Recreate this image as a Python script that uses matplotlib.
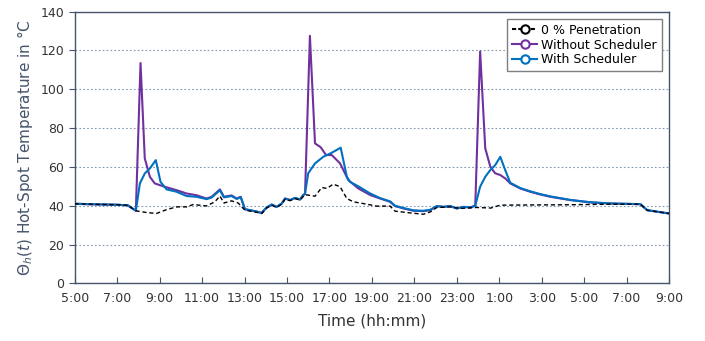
import matplotlib.pyplot as plt
from matplotlib.lines import Line2D

# time in hours after 5:00
t_without = [0, 1, 2, 2.5, 2.88, 3.10, 3.30, 3.54, 3.77, 4.17, 4.80, 5.27, 5.74, 6.21, 6.45,
             6.84, 7.03, 7.39, 7.63, 7.82, 8.02, 8.49, 8.81, 9.04, 9.28, 9.51, 9.75, 9.91,
             10.14, 10.38, 10.61, 10.77, 10.85, 11.08, 11.32, 11.59, 11.84, 12.11, 12.50,
             12.89, 13.36, 13.92, 14.39, 14.86, 15.09, 15.49, 15.96, 16.43, 16.75, 17.06,
             17.37, 17.69, 18.00, 18.32, 18.63, 18.87, 19.10, 19.34, 19.58, 19.81, 20.05,
             20.28, 20.52, 20.99, 21.46, 21.93, 22.41, 23.35, 24.29, 25.24, 26.65, 26.97, 28]
v_without = [41.0, 40.7, 40.5, 40.2, 37.4, 113.5, 64.4, 54.9, 51.5, 50.0, 48.0, 46.3, 45.4, 43.7, 44.6,
             48.4, 44.6, 45.3, 43.7, 44.6, 38.2, 37.2, 36.3, 39.1, 40.6, 39.4, 41.1, 43.7,
             42.9, 44.0, 43.2, 45.5, 46.0, 127.5, 72.1, 70.1, 66.1, 66.1, 61.8,
             53.2, 48.9, 45.5, 43.7, 42.0, 39.8, 38.6, 37.4, 37.2, 37.7, 39.8,
             39.4, 39.8, 38.6, 39.4, 39.1, 40.0, 119.5, 69.6, 60.1, 56.7, 55.8,
             54.1, 51.5, 48.9, 47.2, 45.8, 44.6, 42.9, 41.7, 41.1, 40.8, 37.7, 36.0]

t_with = [0, 1, 2, 2.5, 2.88, 3.07, 3.30, 3.54, 3.82, 4.04, 4.33, 4.80, 5.27, 5.74, 6.21, 6.45,
          6.84, 7.03, 7.39, 7.63, 7.82, 8.02, 8.49, 8.81, 9.04, 9.28, 9.51, 9.75, 9.91,
          10.14, 10.38, 10.61, 10.77, 10.85, 11.00, 11.32, 11.71, 12.11, 12.53, 12.82,
          12.97, 13.36, 13.92, 14.39, 14.86, 15.09, 15.49, 15.96, 16.43, 16.75, 17.06,
          17.37, 17.69, 18.00, 18.32, 18.63, 18.87, 19.10, 19.34, 19.58, 19.81, 20.05,
          20.28, 20.52, 20.99, 21.46, 21.93, 22.41, 23.35, 24.29, 25.24, 26.65, 26.97, 28]
v_with = [41.0, 40.7, 40.5, 40.2, 37.4, 51.5, 56.6, 59.2, 63.5, 52.3, 48.4, 47.2, 45.0, 44.6, 43.4, 44.2,
          48.0, 44.3, 45.0, 43.5, 44.4, 38.2, 37.2, 36.3, 39.1, 40.6, 39.4, 41.1, 43.7,
          42.9, 44.0, 43.2, 45.5, 46.3, 56.7, 61.8, 65.2, 67.3, 69.9, 54.9,
          52.3, 50.0, 46.3, 43.9, 42.2, 40.0, 38.8, 37.6, 37.4, 37.9, 39.8,
          39.4, 39.8, 38.6, 39.4, 39.1, 40.0, 49.8, 54.9, 58.4, 60.9, 65.2,
          58.4, 51.8, 49.1, 47.4, 46.0, 44.8, 43.0, 41.8, 41.2, 40.8, 37.7, 36.0]

t_base = [0, 1, 2, 2.5, 2.88, 3.38, 3.85, 4.33, 4.80, 5.27, 5.58, 6.21, 6.60, 6.84, 7.03,
          7.39, 7.70, 8.02, 8.49, 8.81, 9.04, 9.28, 9.51, 9.75, 9.91, 10.14, 10.38, 10.61,
          10.85, 11.32, 11.64, 11.87, 12.18, 12.50, 12.82, 13.13, 13.60, 14.23, 14.86,
          15.09, 15.80, 16.43, 16.75, 17.06, 17.69, 18.16, 18.95, 19.60, 20.05, 23.35,
          25.24, 26.65, 26.97, 28]
v_base = [41.0, 40.7, 40.5, 40.2, 37.4, 36.5, 36.0, 38.0, 39.4, 39.4, 40.6, 39.9, 42.0, 45.0, 41.4,
          42.5, 41.4, 37.7, 36.8, 36.0, 38.8, 40.3, 39.1, 40.8, 43.4, 42.6, 43.7, 42.9,
          45.7, 44.9, 49.4, 48.9, 51.1, 49.8, 43.7, 42.0, 41.1, 39.8, 39.8,
          37.2, 36.3, 35.6, 36.8, 39.1, 39.4, 38.6, 39.1, 38.8, 40.3, 40.5,
          40.8, 40.8, 37.7, 36.0]

tick_labels = ['5:00', '7:00', '9:00', '11:00', '13:00', '15:00', '17:00', '19:00',
               '21:00', '23:00', '1:00', '3:00', '5:00', '7:00', '9:00']

purple = '#7030A0'
blue = '#0070C0'
axis_col = '#44546A'

fig = plt.figure(figsize=(7.05, 3.41), dpi=100)
ax = fig.add_axes([0.106, 0.169, 0.843, 0.797])

ax.plot(t_base, v_base, color='black', linestyle=(0, (3, 2)), linewidth=1.0, zorder=3)
ax.plot(t_without, v_without, color=purple, linewidth=1.5, zorder=2)
ax.plot(t_with, v_with, color=blue, linewidth=1.5, zorder=2.5)

ax.set_xlim(0, 28)
ax.set_ylim(0, 140)
ax.set_xticks(range(0, 29, 2))
ax.set_xticklabels(tick_labels)
ax.set_yticks(range(0, 141, 20))
ax.yaxis.grid(True, linestyle=(0, (1.5, 2)), color='#8496B0', linewidth=0.8)
ax.set_axisbelow(True)

for s in ax.spines.values():
    s.set_color(axis_col)
    s.set_linewidth(1.0)
ax.tick_params(axis='x', direction='in', length=4, colors=axis_col, labelcolor='#333333', labelsize=9, pad=6)
ax.tick_params(axis='y', direction='out', length=4, colors=axis_col, labelcolor='#333333', labelsize=9)

ax.set_xlabel('Time (hh:mm)', fontsize=11, color='#333333', labelpad=6)
ax.set_ylabel(r'$\Theta_h(t)$ Hot-Spot Temperature in °C', fontsize=11, color=axis_col, labelpad=4)

handles = [
    Line2D([], [], color='black', linestyle=(0, (2, 1)), linewidth=1.5, marker='o',
           markerfacecolor='white', markeredgecolor='black', markersize=6, markeredgewidth=1.5),
    Line2D([], [], color=purple, linewidth=1.5, marker='o',
           markerfacecolor='white', markeredgecolor=purple, markersize=6, markeredgewidth=1.5),
    Line2D([], [], color=blue, linewidth=1.5, marker='o',
           markerfacecolor='white', markeredgecolor=blue, markersize=6, markeredgewidth=1.5),
]
leg = ax.legend(handles, ['0 % Penetration', 'Without Scheduler', 'With Scheduler'],
                loc='upper right', bbox_to_anchor=(0.998, 0.997), fontsize=9, fancybox=False,
                handlelength=2.0, handletextpad=0.3, borderpad=0.4, labelspacing=0.15,
                framealpha=1)
leg.get_frame().set_edgecolor('#7F7F7F')
leg.get_frame().set_linewidth(1.0)

fig.savefig('out.png', dpi=100)
